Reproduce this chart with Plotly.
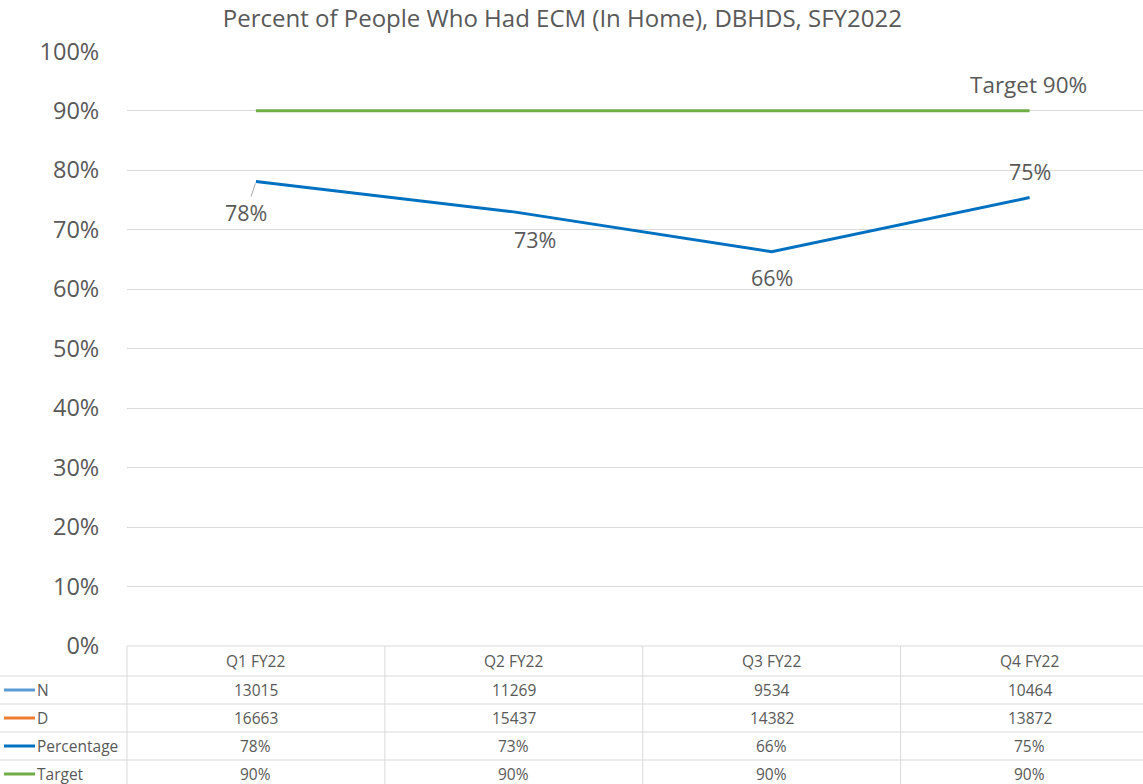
import plotly.graph_objects as go

categories = ["Q1 FY22", "Q2 FY22", "Q3 FY22", "Q4 FY22"]
n_values = [13015, 11269, 9534, 10464]
d_values = [16663, 15437, 14382, 13872]
pct_values = [0.781, 0.730, 0.663, 0.754]
target_values = [0.90, 0.90, 0.90, 0.90]
pct_labels = ["78%", "73%", "66%", "75%"]
target_labels = ["90%", "90%", "90%", "90%"]
y_ticks = [i / 10 for i in range(11)]
y_tick_text = [f"{i*10}%" for i in range(11)]

FONT = "Open Sans"
TXT = "#595959"
GRID = "#D9D9D9"
C_N = "#5B9BD5"
C_D = "#ED7D31"
C_P = "#0070C0"
C_T = "#70AD47"

W, H = 1143, 784
ML, MR, MT, MB = 127, 0, 51, 138
X0, X1 = -0.5, 3.44
PH = H - MT - MB

fig = go.Figure()
fig.add_trace(go.Scatter(x=categories, y=target_values, mode="lines",
                         line=dict(color=C_T, width=3), name="Target", hoverinfo="skip"))
fig.add_trace(go.Scatter(x=categories, y=pct_values, mode="lines",
                         line=dict(color=C_P, width=3), name="Percentage", hoverinfo="skip"))

ann = []
label_shift = [None, (21, -28), (0, -26), (0, 26)]
for i, (c, v, t) in enumerate(zip(categories, pct_values, pct_labels)):
    if i == 0:
        ann.append(dict(x=c, y=v, xref="x", yref="y", text=t, showarrow=True,
                        arrowhead=0, arrowwidth=1, arrowcolor="#A6A6A6",
                        ax=-10, ay=31, standoff=2, startstandoff=0,
                        font=dict(family=FONT, size=21.5, color=TXT)))
    else:
        xs, ys = label_shift[i]
        ann.append(dict(x=c, y=v, xref="x", yref="y", text=t, showarrow=False,
                        xshift=xs, yshift=ys, font=dict(family=FONT, size=21.5, color=TXT)))
ann.append(dict(x=categories[-1], y=target_values[-1], xref="x", yref="y",
                text="Target " + target_labels[-1], showarrow=False, yshift=26, xshift=-1,
                font=dict(family=FONT, size=22.5, color=TXT)))

def px_to_py(ypx):
    return (H - MB - ypx) / PH

def xcat_to_paper(v):
    return (v - X0) / (X1 - X0)

def px_to_px(xpx):
    return (xpx - ML) / (W - ML - MR)

shapes = []
row_tops = [646, 676, 704, 732, 760, 788]
shapes.append(dict(type="line", xref="paper", yref="paper", x0=0, x1=1,
                   y0=px_to_py(646), y1=px_to_py(646), line=dict(color=GRID, width=1)))
for yt in row_tops[1:5]:
    shapes.append(dict(type="line", xref="paper", yref="paper", x0=px_to_px(0), x1=1,
                       y0=px_to_py(yt), y1=px_to_py(yt), line=dict(color=GRID, width=1)))
for i in range(len(categories)):
    xp = xcat_to_paper(i - 0.5)
    shapes.append(dict(type="line", xref="paper", yref="paper", x0=xp, x1=xp,
                       y0=px_to_py(646), y1=px_to_py(790), line=dict(color=GRID, width=1)))

rows = [
    ("N", C_N, [str(v) for v in n_values]),
    ("D", C_D, [str(v) for v in d_values]),
    ("Percentage", C_P, pct_labels),
    ("Target", C_T, target_labels),
]
TS = 15.5
for i, c in enumerate(categories):
    ann.append(dict(x=xcat_to_paper(i), y=px_to_py(661), xref="paper", yref="paper",
                    xanchor="center", yanchor="middle",
                    text=c, showarrow=False, font=dict(family=FONT, size=TS, color=TXT)))
for r, (name, col, vals) in enumerate(rows):
    yc = px_to_py((row_tops[r + 1] + row_tops[r + 2]) / 2)
    shapes.append(dict(type="line", xref="paper", yref="paper", x0=px_to_px(4), x1=px_to_px(35),
                       y0=yc, y1=yc, line=dict(color=col, width=3)))
    ann.append(dict(x=px_to_px(35), y=yc, xref="paper", yref="paper", text=name,
                    showarrow=False, xanchor="left", yanchor="middle",
                    font=dict(family=FONT, size=TS, color=TXT)))
    for i, v in enumerate(vals):
        ann.append(dict(x=xcat_to_paper(i), y=yc, xref="paper", yref="paper", text=v,
                        xanchor="center", yanchor="middle",
                        showarrow=False, font=dict(family=FONT, size=TS, color=TXT)))

fig.update_layout(
    width=W, height=H,
    margin=dict(l=ML, r=MR, t=MT, b=MB, pad=0),
    paper_bgcolor="white", plot_bgcolor="white",
    showlegend=False,
    title=dict(text="Percent of People Who Had ECM (In Home), DBHDS, SFY2022",
               x=0.492, xanchor="center", y=1 - 19 / H, yanchor="middle",
               font=dict(family=FONT, size=24, color=TXT)),
    xaxis=dict(range=[X0, X1], showgrid=False, showticklabels=False, zeroline=False,
               showline=False, ticks=""),
    yaxis=dict(range=[0, 1.0005], tickvals=y_ticks, ticktext=y_tick_text,
               showgrid=True, gridcolor=GRID, gridwidth=1, zeroline=False,
               showline=False, ticks="outside", ticklen=22, tickcolor="rgba(0,0,0,0)",
               tickfont=dict(family=FONT, size=23.5, color=TXT)),
    annotations=ann, shapes=shapes,
)
fig.write_html("out.html")
